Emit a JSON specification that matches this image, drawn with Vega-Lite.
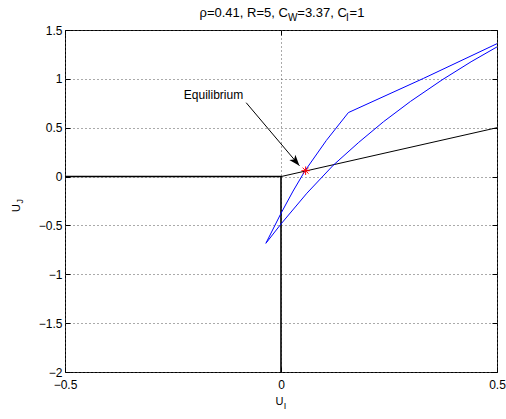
{
  "$schema": "https://vega.github.io/schema/vega-lite/v6.json",
  "width": 432,
  "height": 342,
  "autosize": {"type": "none"},
  "padding": {"left": 65, "top": 30, "right": 9, "bottom": 47},
  "background": "white",
  "config": {
    "view": {"stroke": "#000", "strokeWidth": 1},
    "font": "Liberation Sans",
    "axis": {
      "labelFont": "Liberation Sans",
      "labelFontSize": 12,
      "labelColor": "#000",
      "tickColor": "#000",
      "tickSize": -5,
      "tickWidth": 1,
      "domain": false,
      "gridColor": "#555",
      "gridDash": [1, 3],
      "gridWidth": 1,
      "gridOpacity": 1
    },
    "text": {"font": "Liberation Sans", "color": "#000"}
  },
  "datasets": {
    "thick": [
      {"order": 1, "x": -0.5, "y": 0},
      {"order": 2, "x": 0, "y": 0},
      {"order": 3, "x": 0, "y": -2}
    ],
    "thin": [
      {"order": 1, "x": 0, "y": 0},
      {"order": 2, "x": 0.5, "y": 0.5}
    ],
    "blue": [
      {"order": 1, "x": 0.5, "y": 1.36},
      {"order": 2, "x": 0.33, "y": 1.005},
      {"order": 3, "x": 0.156, "y": 0.655},
      {"order": 4, "x": 0.105, "y": 0.37},
      {"order": 5, "x": 0.056, "y": 0.062},
      {"order": 6, "x": 0.028, "y": -0.148},
      {"order": 7, "x": 0, "y": -0.376},
      {"order": 8, "x": -0.035, "y": -0.683},
      {"order": 9, "x": 0, "y": -0.485},
      {"order": 10, "x": 0.06, "y": -0.17},
      {"order": 11, "x": 0.1214, "y": 0.118},
      {"order": 12, "x": 0.18, "y": 0.35},
      {"order": 13, "x": 0.2375, "y": 0.562},
      {"order": 14, "x": 0.3, "y": 0.77},
      {"order": 15, "x": 0.3727, "y": 0.989},
      {"order": 16, "x": 0.44, "y": 1.175},
      {"order": 17, "x": 0.5, "y": 1.327}
    ]
  },
  "encoding": {
    "x": {"field": "x", "type": "quantitative", "scale": {"domain": [-0.5, 0.5], "nice": false, "zero": false}, "axis": null},
    "y": {"field": "y", "type": "quantitative", "scale": {"domain": [-2, 1.5], "nice": false, "zero": false}, "axis": null}
  },
  "layer": [
    {
      "data": {"name": "thin"},
      "mark": {"type": "line", "color": "#000", "strokeWidth": 1},
      "encoding": {
        "x": {"field": "x", "type": "quantitative", "scale": {"domain": [-0.5, 0.5], "nice": false, "zero": false},
          "axis": {"orient": "bottom", "values": [-0.5, 0, 0.5], "format": "~g", "grid": true, "labelPadding": 12, "labelFlush": false, "title": null}},
        "y": {"field": "y", "type": "quantitative", "scale": {"domain": [-2, 1.5], "nice": false, "zero": false},
          "axis": {"orient": "left", "values": [-2, -1.5, -1, -0.5, 0, 0.5, 1, 1.5], "format": "~g", "grid": true, "labelPadding": 8, "labelFlush": false, "title": null}},
        "order": {"field": "order", "type": "quantitative"}
      }
    },
    {
      "data": {"name": "thick"},
      "mark": {"type": "line", "color": "#000", "strokeWidth": 1.6},
      "encoding": {
        "order": {"field": "order", "type": "quantitative"}
      }
    },
    {
      "data": {"name": "blue"},
      "mark": {"type": "line", "color": "#0000ff", "strokeWidth": 1},
      "encoding": {
        "x": {"field": "x", "type": "quantitative", "scale": {"domain": [-0.5, 0.5], "nice": false, "zero": false},
          "axis": {"orient": "top", "values": [-0.5, 0, 0.5], "labels": false, "grid": false, "title": null}},
        "y": {"field": "y", "type": "quantitative", "scale": {"domain": [-2, 1.5], "nice": false, "zero": false},
          "axis": {"orient": "right", "values": [-2, -1.5, -1, -0.5, 0, 0.5, 1, 1.5], "labels": false, "grid": false, "title": null}},
        "order": {"field": "order", "type": "quantitative"}
      }
    },
    {
      "data": {"values": [{"x": -0.0806, "y": 0.756, "x2": 0.0427, "y2": 0.111}]},
      "mark": {"type": "rule", "color": "#000", "strokeWidth": 1},
      "encoding": {"x2": {"field": "x2"}, "y2": {"field": "y2"}}
    },
    {
      "data": {"values": [{"x": 0.0427, "y": 0.111}]},
      "mark": {"type": "point", "shape": "M0,0L-1,-0.36L-0.75,0L-1,0.36Z", "filled": true, "color": "#000", "size": 484, "angle": 49.8, "strokeWidth": 0, "opacity": 1}
    },
    {
      "data": {"values": [{"x": 0.057, "y": 0.06}]},
      "mark": {"type": "point", "shape": "M-1,0L1,0M0,-1L0,1M-0.7,-0.7L0.7,0.7M-0.7,0.7L0.7,-0.7", "filled": false, "color": "#ff0000", "size": 72, "strokeWidth": 1, "opacity": 1}
    },
    {
      "data": {"values": [
        {"label": "ρ=0.41, R=5, C", "x": -0.1887, "y": 1.633},
        {"label": "=3.37, C", "x": 0.0377, "y": 1.633},
        {"label": "=1", "x": 0.1588, "y": 1.633}
      ]},
      "mark": {"type": "text", "fontSize": 13, "align": "left", "baseline": "alphabetic"},
      "encoding": {"text": {"field": "label"}}
    },
    {
      "data": {"values": [
        {"label": "W", "x": 0.016, "y": 1.597},
        {"label": "I", "x": 0.1505, "y": 1.597}
      ]},
      "mark": {"type": "text", "fontSize": 10, "align": "left", "baseline": "alphabetic"},
      "encoding": {"text": {"field": "label"}}
    },
    {
      "data": {"values": [{"label": "Equilibrium", "x": -0.225, "y": 0.794}]},
      "mark": {"type": "text", "fontSize": 12, "align": "left", "baseline": "alphabetic"},
      "encoding": {"text": {"field": "label"}}
    },
    {
      "data": {"values": [{"label": "U", "x": -0.0127, "y": -2.338}]},
      "mark": {"type": "text", "fontSize": 11, "align": "left", "baseline": "alphabetic"},
      "encoding": {"text": {"field": "label"}}
    },
    {
      "data": {"values": [{"label": "I", "x": 0.0065, "y": -2.379}]},
      "mark": {"type": "text", "fontSize": 9, "align": "left", "baseline": "alphabetic"},
      "encoding": {"text": {"field": "label"}}
    },
    {
      "data": {"values": [{"label": "U", "x": -0.6042, "y": -0.3626}]},
      "mark": {"type": "text", "fontSize": 11, "align": "left", "baseline": "alphabetic", "angle": 270},
      "encoding": {"text": {"field": "label"}}
    },
    {
      "data": {"values": [{"label": "J", "x": -0.5972, "y": -0.2756}]},
      "mark": {"type": "text", "fontSize": 9, "align": "left", "baseline": "alphabetic", "angle": 270},
      "encoding": {"text": {"field": "label"}}
    }
  ],
  "resolve": {"axis": {"x": "independent", "y": "independent"}}
}
